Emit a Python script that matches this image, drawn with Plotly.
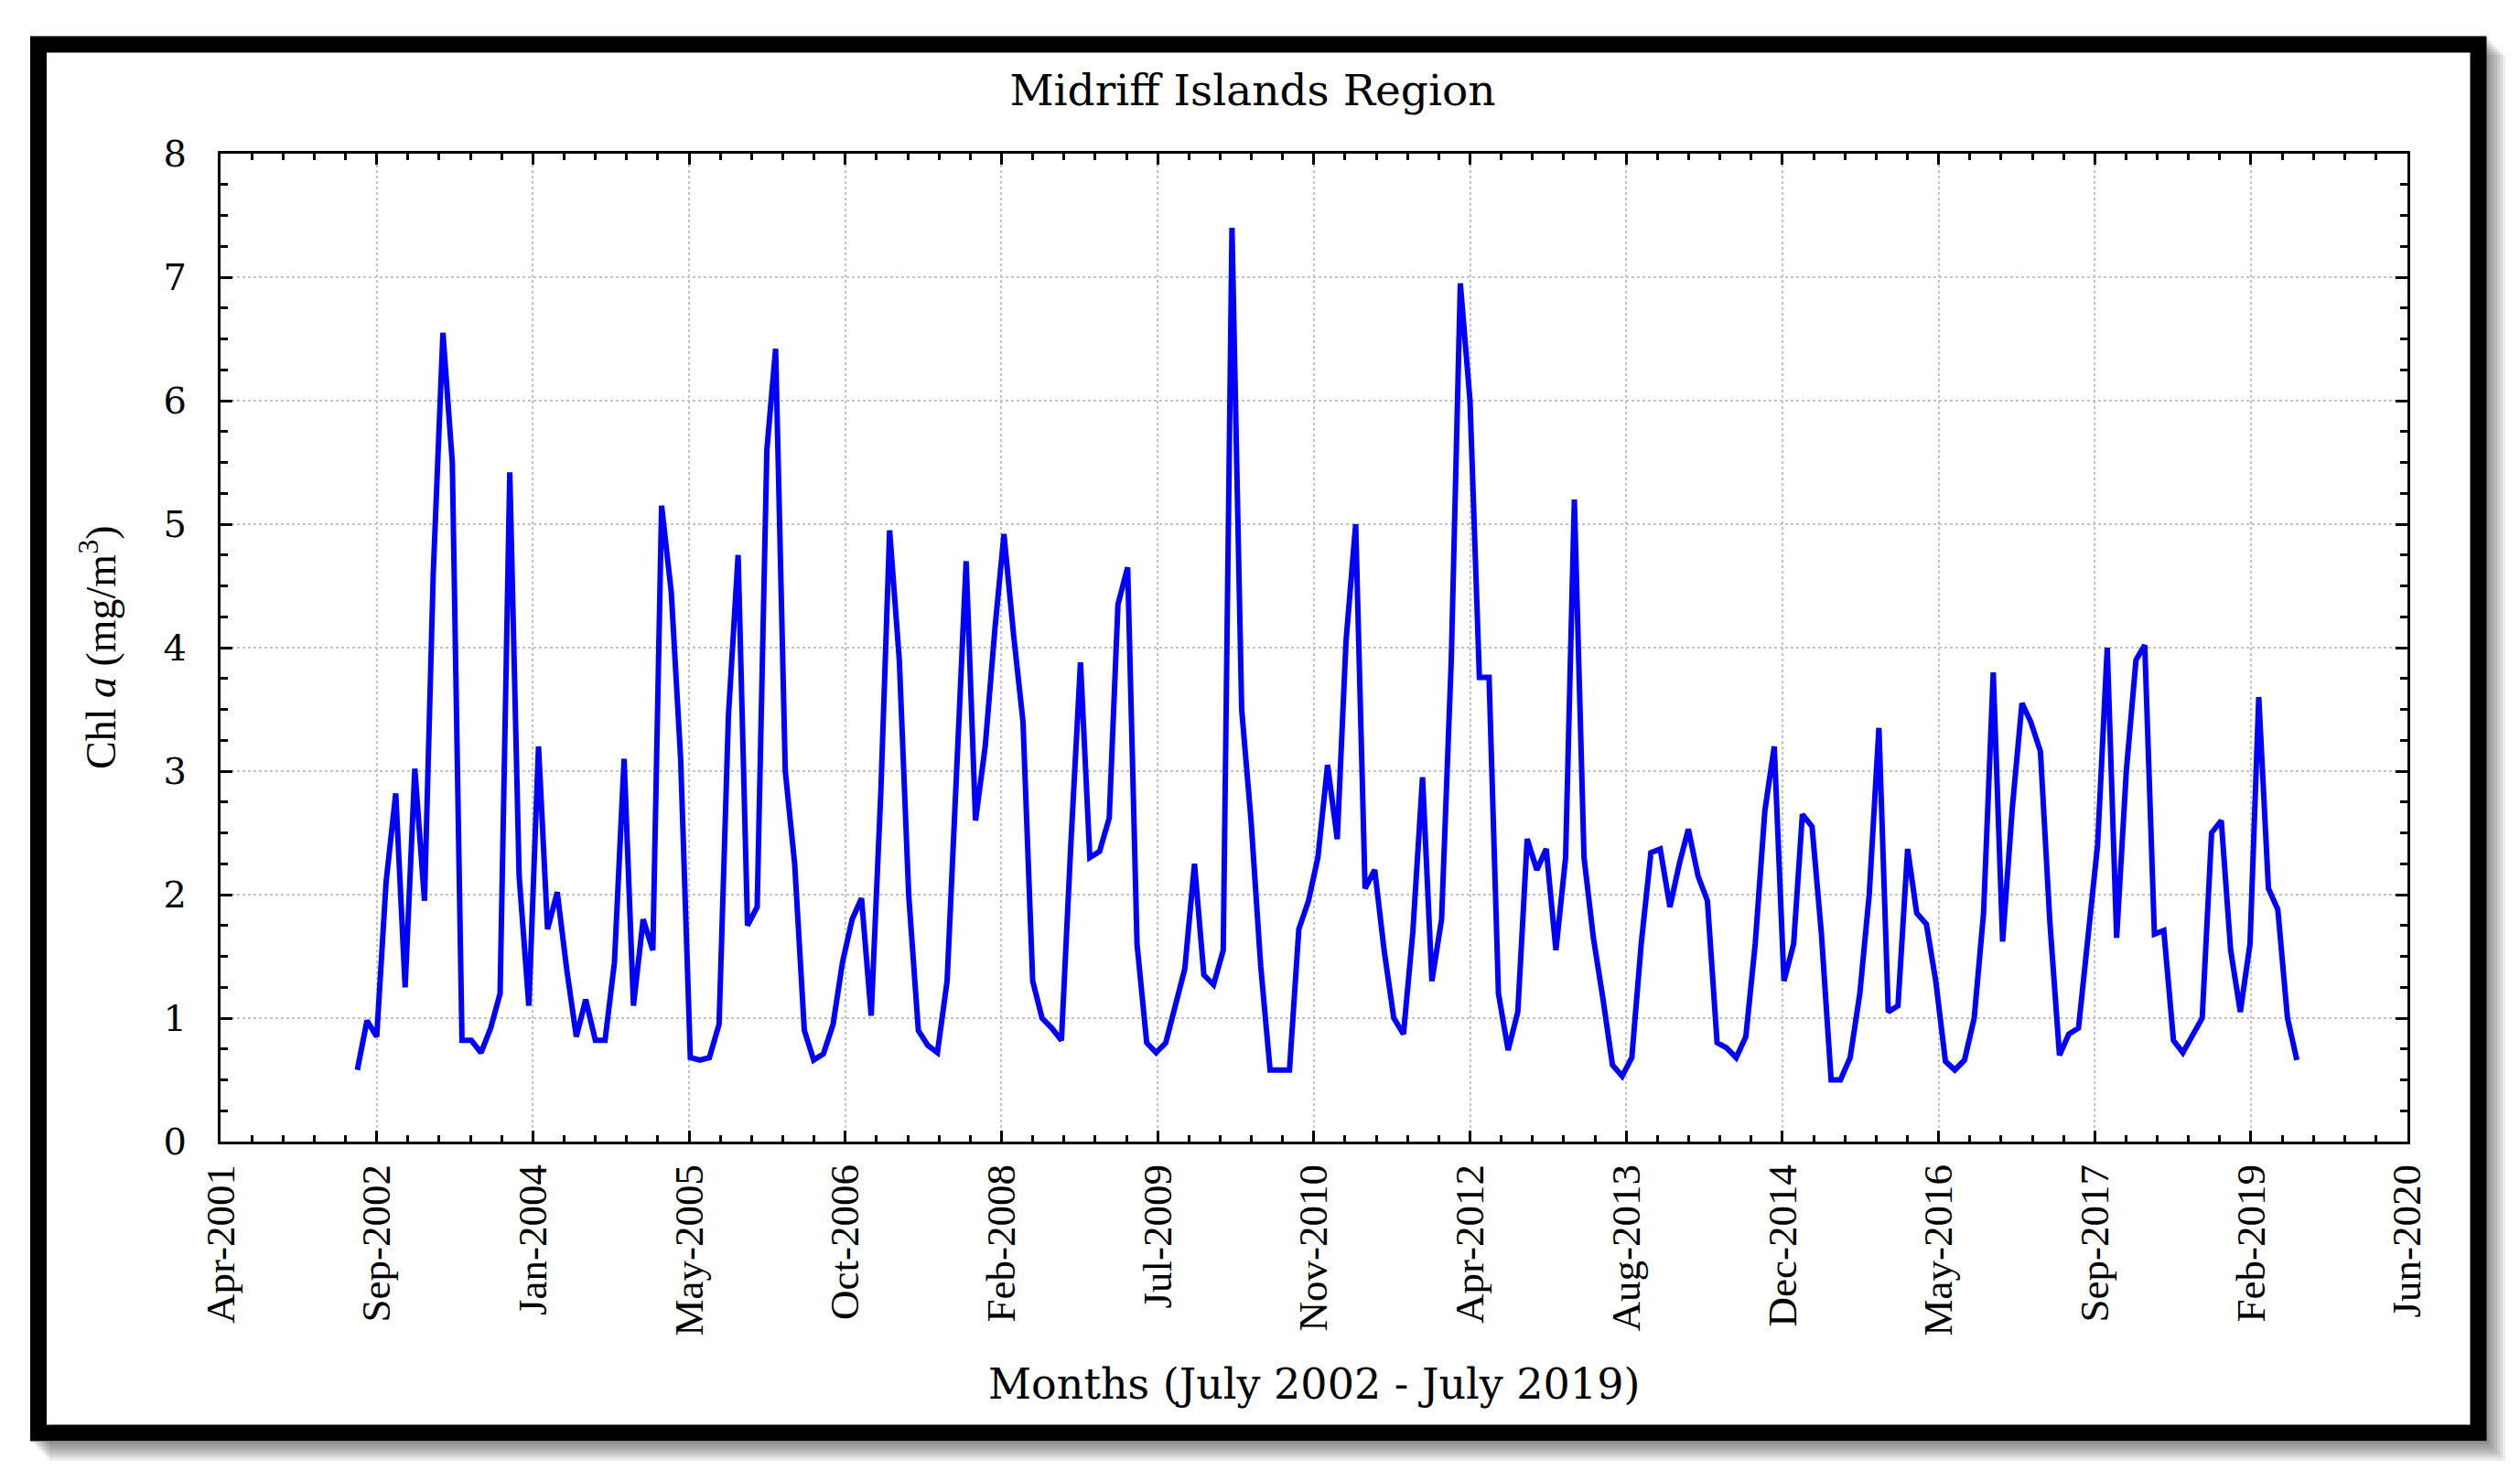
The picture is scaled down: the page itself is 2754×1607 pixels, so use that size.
import plotly.graph_objects as go
import pandas as pd

# ---------------- data ----------------
start_month = "2002-07-01"
n_months = 205
months = pd.date_range(start_month, periods=n_months, freq="MS")

chl = [
    0.58, 0.98, 0.85, 2.10, 2.82, 1.25, 3.02, 1.95, 4.60, 6.55,
    5.50, 0.82, 0.82, 0.72, 0.92, 1.20, 5.42, 2.15, 1.10, 3.20,
    1.72, 2.02, 1.40, 0.85, 1.15, 0.82, 0.82, 1.45, 3.10, 1.10,
    1.80, 1.55, 5.15, 4.45, 3.10, 0.68, 0.66, 0.68, 0.95, 3.45,
    4.75, 1.75, 1.90, 5.60, 6.42, 3.00, 2.25, 0.90, 0.66, 0.71,
    0.95, 1.45, 1.80, 1.97, 1.02, 2.84, 4.95, 3.90, 2.00, 0.90,
    0.78, 0.72, 1.30, 2.95, 4.70, 2.60, 3.20, 4.15, 4.92, 4.10,
    3.40, 1.30, 1.00, 0.92, 0.82, 2.40, 3.88, 2.30, 2.35, 2.62,
    4.35, 4.65, 1.60, 0.80, 0.72, 0.80, 1.10, 1.40, 2.25, 1.35,
    1.27, 1.55, 7.40, 3.50, 2.60, 1.42, 0.58, 0.58, 0.58, 1.72,
    1.95, 2.30, 3.05, 2.45, 4.05, 5.00, 2.05, 2.20, 1.55, 1.00,
    0.87, 1.70, 2.95, 1.30, 1.80, 3.90, 6.95, 6.00, 3.76, 3.76,
    1.20, 0.74, 1.05, 2.45, 2.20, 2.37, 1.55, 2.30, 5.20, 2.30,
    1.65, 1.15, 0.62, 0.53, 0.68, 1.60, 2.34, 2.37, 1.90, 2.26,
    2.53, 2.15, 1.95, 0.80, 0.76, 0.68, 0.85, 1.60, 2.68, 3.20,
    1.30, 1.60, 2.65, 2.55, 1.68, 0.50, 0.50, 0.68, 1.20, 2.00,
    3.35, 1.05, 1.10, 2.37, 1.85, 1.76, 1.30, 0.65, 0.58, 0.66,
    1.00, 1.85, 3.80, 1.62, 2.70, 3.55, 3.40, 3.16, 1.79, 0.70,
    0.87, 0.92, 1.70, 2.40, 4.00, 1.65, 3.00, 3.90, 4.02, 1.68,
    1.71, 0.82, 0.72, 0.85, 1.00, 2.50, 2.60, 1.55, 1.05, 1.60,
    3.60, 2.05, 1.88, 1.00, 0.66,
]

x_range = ["2001-04-19", "2020-06-19"]
x_tick0 = "2001-04-19"
x_major_days = 500
x_minor_days = 100
y_range = [0, 8]

title_text = "Midriff Islands Region"
x_title = "Months (July 2002 - July 2019)"
y_title = "Chl <i>a</i> (mg/m<sup>3</sup>)"

# ---------------- layout geometry (pixels) ----------------
W, H = 2754, 1607
L, R, T, B = 241, 2631, 168, 1248
DAY = 86400000


def px(xp):
    return (xp - L) / (R - L)


def py(yp):
    return (B - yp) / (B - T)


fig = go.Figure()
fig.add_trace(go.Scatter(
    x=months, y=chl, mode="lines",
    line=dict(color="#0000FF", width=6),
    showlegend=False,
))

tick_font_y = dict(family="DejaVu Serif", size=40, color="black")
tick_font_x = dict(family="Liberation Serif", size=45, color="black")

fig.update_xaxes(
    type="date", range=x_range,
    tickmode="linear", tick0=x_tick0, dtick=x_major_days * DAY,
    tickformat="%b-%Y", tickangle=-90, tickfont=tick_font_x,
    ticks="inside", ticklen=12, tickwidth=3, tickcolor="black",
    showline=True, linecolor="black", linewidth=3, mirror="allticks",
    showgrid=True, gridcolor="#c4c4c4", griddash="dot", gridwidth=2,
    zeroline=False, ticklabelstandoff=4,
    minor=dict(dtick=x_minor_days * DAY, tick0=x_tick0, ticks="inside",
               ticklen=7, tickwidth=2.5, tickcolor="black", showgrid=False),
)
fig.update_yaxes(
    range=y_range, tickmode="linear", tick0=0, dtick=1,
    tickfont=tick_font_y,
    ticks="inside", ticklen=13, tickwidth=3, tickcolor="black",
    showline=True, linecolor="black", linewidth=3, mirror="allticks",
    showgrid=True, gridcolor="#c4c4c4", griddash="dot", gridwidth=2,
    zeroline=False, ticklabelstandoff=26,
    minor=dict(dtick=0.25, tick0=0, ticks="inside", ticklen=8,
               tickwidth=2.5, tickcolor="black", showgrid=False),
)

shapes = []
# soft shadow of the frame (bottom-right)
for d in (3, 6, 9, 12, 15, 18, 21):
    shapes.append(dict(type="rect", xref="paper", yref="paper", layer="below",
                       x0=px(33 + d), x1=px(2717 + d), y0=py(39 + d), y1=py(1576 + d),
                       fillcolor="rgba(0,0,0,0.075)", line=dict(width=0)))
# white panel inside frame
shapes.append(dict(type="rect", xref="paper", yref="paper", layer="below",
                   x0=px(33), x1=px(2717), y0=py(39), y1=py(1576),
                   fillcolor="white", line=dict(width=0)))
# black frame
shapes.append(dict(type="rect", xref="paper", yref="paper", layer="below",
                   x0=px(42), x1=px(2708.5), y0=py(48.5), y1=py(1566.5),
                   fillcolor="rgba(0,0,0,0)", line=dict(color="black", width=18)))

annotations = [
    dict(text=x_title, xref="paper", yref="paper", x=px(1436), y=py(1513),
         xanchor="center", yanchor="middle", showarrow=False,
         font=dict(family="DejaVu Serif", size=46, color="black")),
    dict(text=y_title, xref="paper", yref="paper", x=px(107), y=py(708),
         xanchor="center", yanchor="middle", showarrow=False, textangle=-90,
         font=dict(family="Liberation Serif", size=46, color="black")),
]

fig.update_layout(
    width=W, height=H, autosize=False,
    margin=dict(l=L, r=W - R, t=T, b=H - B, pad=0),
    paper_bgcolor="white", plot_bgcolor="white",
    title=dict(text=title_text, x=1369 / W, xref="container", xanchor="center",
               y=1 - 99 / H, yref="container", yanchor="middle",
               font=dict(family="DejaVu Serif", size=47, color="black")),
    shapes=shapes, annotations=annotations,
)

fig.write_html("out.html", config={"displayModeBar": False},
               post_script="document.body.style.margin='0';")
